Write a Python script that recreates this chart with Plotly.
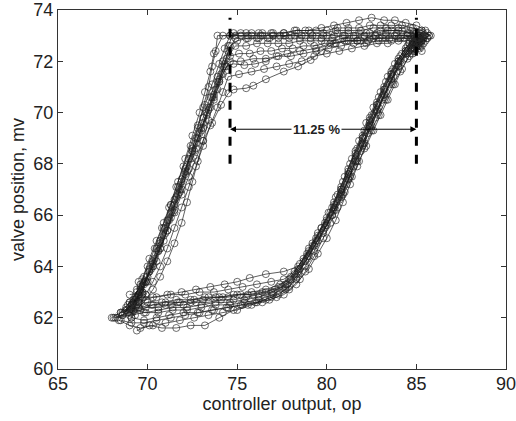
import plotly.graph_objects as go

# ---- data: one hysteresis cycle per pair of lists ----
# order in each cycle: bottom branch -> right branch (+ dwell at top corner)
#                      -> top branch -> left branch (+ dwell at bottom corner)
op_a = [68.6, 69.2, 69.9, 70.6, 71.3, 72.0, 72.7, 73.4, 74.1, 74.8, 75.5, 76.2, 76.9, 77.5, 78.0,
        78.5, 79.0, 79.5, 80.0, 80.5, 80.9, 81.3, 81.7, 82.1, 82.5, 82.9, 83.3, 83.7, 84.1, 84.5, 84.9, 85.2,
        85.0, 85.3, 84.8, 85.2,
        85.4, 85.0, 84.5, 83.9, 83.3, 82.7, 82.1, 81.5, 80.9, 80.3, 79.7, 79.1, 78.5, 77.9, 77.3, 76.7, 76.1, 75.5, 74.9,
        74.5, 74.2, 73.9, 73.6, 73.3, 73.0, 72.7, 72.4, 72.1, 71.8, 71.5, 71.2, 70.9, 70.6, 70.3, 70.0, 69.6, 69.2,
        69.5, 69.0, 69.3]
mv_a = [62.1, 62.3, 62.4, 62.4, 62.5, 62.5, 62.6, 62.6, 62.7, 62.7, 62.8, 62.9, 63.0, 63.2, 63.5,
        63.9, 64.4, 65.0, 65.6, 66.2, 66.8, 67.5, 68.1, 68.8, 69.5, 70.2, 70.8, 71.4, 72.0, 72.4, 72.8, 73.0,
        72.6, 72.8, 72.5, 72.9,
        73.0, 73.1, 73.1, 73.1, 73.1, 73.0, 73.0, 73.0, 73.0, 72.9, 72.9, 72.9, 72.9, 72.9, 72.9, 72.9, 72.9, 72.9, 72.9,
        72.4, 71.8, 71.2, 70.6, 70.0, 69.4, 68.8, 68.2, 67.6, 67.0, 66.4, 65.8, 65.2, 64.6, 64.1, 63.6, 63.0, 62.5,
        62.9, 62.3, 62.7]

op_b = [69.4, 70.1, 70.8, 71.6, 72.4, 73.2, 74.0, 74.8, 75.6, 76.4, 77.2, 77.9, 78.5,
        79.0, 79.5, 80.0, 80.5, 80.9, 81.3, 81.7, 82.1, 82.5, 82.9, 83.3, 83.7, 84.1, 84.5, 84.9, 85.3, 85.7,
        85.5, 85.0, 84.4, 83.8, 83.2, 82.5, 81.8, 81.1, 80.4, 79.7, 79.0, 78.3, 77.6, 76.9, 76.2, 75.5, 74.8,
        74.5, 74.2, 73.9, 73.5, 73.1, 72.7, 72.3, 71.9, 71.5, 71.1, 70.7, 70.3, 69.9, 69.5]
mv_b = [61.5, 61.7, 61.6, 61.6, 61.7, 61.7, 62.0, 62.3, 62.5, 62.6, 62.8, 63.1, 63.5,
        63.9, 64.5, 65.1, 65.8, 66.5, 67.2, 67.9, 68.6, 69.3, 69.9, 70.5, 71.1, 71.6, 72.1, 72.5, 72.8, 73.0,
        73.2, 73.4, 73.5, 73.6, 73.6, 73.7, 73.6, 73.5, 73.4, 73.3, 73.2, 73.2, 73.1, 73.1, 73.1, 73.1, 73.1,
        72.6, 72.0, 71.4, 70.6, 69.8, 69.0, 68.2, 67.4, 66.6, 65.8, 65.0, 64.2, 63.4, 62.6]

op_c = [68.2, 68.9, 69.6, 70.3, 71.0, 71.7, 72.4, 73.1, 73.8, 74.5, 75.2, 75.9, 76.6, 77.3, 77.9,
        78.4, 78.9, 79.4, 79.9, 80.3, 80.8, 81.2, 81.6, 82.0, 82.4, 82.8, 83.2, 83.6, 84.0, 84.4, 84.8, 85.1,
        84.9, 85.2, 84.7,
        85.3, 84.7, 84.0, 83.3, 82.6, 81.9, 81.2, 80.4, 79.7, 79.1, 78.4, 77.6, 76.6, 75.9, 75.5, 74.8, 74.5,
        74.1, 73.6, 73.1, 72.7, 72.3, 71.9, 71.5, 71.1, 70.7, 70.3, 69.9, 69.5, 69.1,
        69.4, 68.9, 69.6]
mv_c = [62.0, 62.2, 62.3, 62.5, 62.5, 62.6, 62.6, 62.7, 62.8, 62.8, 62.9, 62.9, 63.0, 63.2, 63.5,
        63.9, 64.5, 65.1, 65.7, 66.3, 67.0, 67.7, 68.4, 69.0, 69.7, 70.3, 70.9, 71.5, 72.0, 72.4, 72.7, 72.9,
        72.5, 72.7, 72.3,
        72.8, 72.9, 72.9, 72.9, 72.9, 72.8, 72.8, 72.7, 72.4, 72.05, 71.8, 71.6, 71.3, 71.05, 70.95, 70.9, 70.75,
        70.3, 69.6, 68.9, 68.2, 67.5, 66.8, 66.1, 65.4, 64.7, 64.0, 63.4, 62.8, 62.3,
        62.8, 62.5, 63.2]

op_d = [68.8, 69.5, 70.3, 71.1, 71.9, 72.7, 73.5, 74.3, 75.0, 75.7, 76.6, 77.6, 78.4,
        79.0, 79.5, 80.0, 80.4, 80.8, 81.2, 81.6, 82.0, 82.4, 82.8, 83.2, 83.6, 84.0, 84.4, 84.8, 85.1,
        84.9, 85.3, 85.0,
        85.6, 85.1, 84.5, 83.8, 83.1, 82.4, 81.7, 81.0, 80.2, 79.4, 78.5, 77.8, 77.2, 76.6, 76.0, 75.4, 74.8,
        74.4, 74.0, 73.7, 73.3, 72.9, 72.5, 72.1, 71.7, 71.3, 70.9, 70.5, 70.1, 69.7, 69.3]
mv_d = [62.4, 62.6, 62.8, 62.9, 63.0, 63.1, 63.2, 63.3, 63.4, 63.55, 63.7, 63.8, 64.0,
        64.6, 65.2, 65.8, 66.4, 67.0, 67.6, 68.2, 68.8, 69.5, 70.1, 70.7, 71.3, 71.8, 72.3, 72.7, 72.9,
        72.4, 72.6, 72.8,
        72.9, 73.0, 73.0, 73.0, 72.9, 72.9, 72.8, 72.8, 72.7, 72.5, 72.4, 72.3, 72.2, 72.0, 71.9, 71.85, 71.9,
        71.8, 71.2, 70.6, 69.9, 69.2, 68.5, 67.8, 67.1, 66.4, 65.7, 65.0, 64.3, 63.5, 62.8]

op_e = [68.3, 69.0, 69.8, 70.6, 71.4, 72.2, 73.0, 73.8, 74.6, 75.4, 76.2, 77.0, 77.7,
        78.3, 78.8, 79.3, 79.8, 80.3, 80.8, 81.2, 81.6, 82.0, 82.4, 82.8, 83.2, 83.6, 84.0, 84.4, 84.8, 85.2, 85.6,
        85.8, 85.3, 84.7, 84.0, 83.3, 82.6, 81.9, 81.2, 80.5, 79.8, 79.1, 78.4, 77.7, 77.0, 76.3, 75.6, 74.9, 74.2,
        73.7, 73.5, 73.2, 72.9, 72.5, 72.1, 71.7, 71.3, 70.9, 70.5, 70.1, 69.6, 69.1, 68.6,
        69.2, 69.7, 69.0]
mv_e = [62.0, 62.1, 62.2, 62.2, 62.3, 62.3, 62.4, 62.5, 62.5, 62.6, 62.7, 62.9, 63.2,
        63.6, 64.2, 64.8, 65.4, 66.0, 66.7, 67.4, 68.1, 68.7, 69.4, 70.0, 70.6, 71.2, 71.8, 72.3, 72.7, 73.0, 73.1,
        73.0, 73.2, 73.3, 73.3, 73.3, 73.3, 73.2, 73.2, 73.2, 73.1, 73.1, 73.1, 73.0, 73.0, 73.0, 73.0, 73.0, 73.0,
        72.3, 71.6, 70.8, 70.0, 69.1, 68.2, 67.3, 66.4, 65.5, 64.7, 63.9, 63.1, 62.5, 62.2,
        62.6, 63.0, 62.9]

op_f = [69.3, 70.0, 70.8, 71.6, 72.4, 73.2, 74.0, 74.8, 75.6, 76.4, 77.1, 77.7,
        78.2, 78.7, 79.2, 79.7, 80.2, 80.6, 81.0, 81.4, 81.8, 82.2, 82.6, 83.0, 83.4, 83.8, 84.2, 84.6, 85.0,
        84.7, 85.1, 84.9,
        85.2, 84.7, 84.1, 83.5, 82.9, 82.3, 81.7, 81.1, 80.5, 79.9, 79.3, 78.7, 78.1, 77.5, 76.9, 76.3, 75.7, 75.1, 74.6,
        74.3, 74.0, 73.7, 73.4, 73.1, 72.8, 72.5, 72.2, 71.9, 71.6, 71.3, 71.0, 70.7, 70.4, 70.1, 69.8, 69.5, 69.2]
mv_f = [62.5, 62.6, 62.6, 62.7, 62.7, 62.8, 62.8, 62.9, 62.9, 63.0, 63.1, 63.3,
        63.7, 64.2, 64.8, 65.5, 66.1, 66.8, 67.5, 68.2, 68.9, 69.6, 70.2, 70.8, 71.4, 71.9, 72.3, 72.7, 72.9,
        72.5, 72.6, 73.0,
        73.0, 73.0, 72.9, 72.9, 72.9, 72.8, 72.8, 72.8, 72.7, 72.7, 72.6, 72.6, 72.5, 72.5, 72.4, 72.4, 72.3, 72.3, 72.2,
        71.8, 71.3, 70.7, 70.2, 69.6, 69.0, 68.5, 67.9, 67.3, 66.7, 66.1, 65.5, 64.9, 64.3, 63.8, 63.3, 62.9, 62.6]

op_g = [68.5, 69.2, 69.9, 70.6, 71.4, 72.2, 73.0, 73.8, 74.6, 75.4, 76.2, 77.0, 77.8,
        78.4, 78.9, 79.4, 79.9, 80.4, 80.8, 81.2, 81.6, 82.0, 82.4, 82.8, 83.2, 83.6, 84.0, 84.4, 84.8, 85.2,
        85.4, 84.9, 84.3, 83.6, 82.9, 82.2, 81.5, 80.8, 80.1, 79.4, 78.7, 78.0, 77.3, 76.6, 75.9, 75.2, 74.6,
        74.2, 73.9, 73.5, 73.1, 72.7, 72.3, 71.9, 71.5, 71.1, 70.7, 70.3, 69.9, 69.5, 69.1, 68.7,
        69.1, 69.8, 69.4]
mv_g = [62.2, 62.3, 62.2, 62.3, 62.4, 62.4, 62.5, 62.6, 62.6, 62.7, 62.8, 63.0, 63.3,
        63.8, 64.4, 65.0, 65.6, 66.3, 66.9, 67.6, 68.3, 69.0, 69.6, 70.3, 70.9, 71.5, 72.0, 72.4, 72.7, 72.9,
        72.9, 72.9, 72.9, 72.8, 72.8, 72.7, 72.7, 72.6, 72.5, 72.4, 72.3, 72.2, 72.2, 72.1, 72.1, 72.0, 72.0,
        71.5, 70.9, 70.2, 69.4, 68.6, 67.8, 67.0, 66.2, 65.4, 64.7, 64.0, 63.4, 62.9, 62.5, 62.2,
        62.0, 63.6, 63.1]

op_h = [69.1, 69.8, 70.5, 71.2, 72.0, 72.8, 73.6, 74.4, 75.2, 76.0, 76.8, 77.6, 78.3,
        78.8, 79.3, 79.8, 80.2, 80.6, 81.0, 81.4, 81.8, 82.2, 82.6, 83.0, 83.4, 83.8, 84.2, 84.6, 85.0, 85.4,
        85.1, 84.8, 85.2,
        85.6, 85.2, 84.6, 84.0, 83.4, 82.8, 82.2, 81.6, 81.0, 80.4, 79.8, 79.2, 78.6, 78.0, 77.4, 76.8, 76.2, 75.6, 75.0,
        74.6, 74.3, 74.0, 73.7, 73.4, 73.1, 72.8, 72.5, 72.2, 71.9, 71.5, 71.1, 70.7, 70.3, 69.9, 69.5]
mv_h = [62.0, 61.9, 62.0, 62.1, 62.2, 62.2, 62.3, 62.4, 62.5, 62.6, 62.7, 62.9, 63.3,
        63.8, 64.4, 65.1, 65.7, 66.3, 66.9, 67.5, 68.1, 68.7, 69.3, 69.9, 70.5, 71.1, 71.7, 72.2, 72.6, 72.9,
        72.7, 72.4, 72.6,
        72.9, 73.0, 73.1, 73.2, 73.2, 73.1, 73.1, 73.0, 73.0, 73.0, 73.0, 73.0, 73.0, 73.0, 73.0, 72.9, 72.9, 72.9, 72.8,
        72.6, 71.9, 71.2, 70.5, 69.7, 68.9, 68.1, 67.3, 66.5, 65.7, 64.9, 64.2, 63.6, 63.1, 62.7, 62.4]

op_i = [69.0, 69.7, 70.5, 71.3, 72.1, 72.9, 73.7, 74.5, 75.3, 76.1, 76.9, 77.6, 78.2,
        78.7, 79.2, 79.7, 80.1, 80.5, 80.9, 81.3, 81.7, 82.1, 82.5, 82.9, 83.3, 83.7, 84.1, 84.5, 84.9, 85.3,
        85.0, 85.4, 84.9,
        85.7, 85.3, 84.8, 84.2, 83.6, 83.0, 82.4, 81.8, 81.2, 80.6, 80.0, 79.4, 78.8, 78.2, 77.6, 77.0, 76.4, 75.8, 75.2, 74.6,
        74.3, 74.0, 73.6, 73.2, 72.8, 72.4, 72.0, 71.6, 71.2, 70.8, 70.4, 70.0, 69.6, 69.2, 68.8,
        69.3, 69.9, 69.5]
mv_i = [62.6, 62.8, 62.8, 62.9, 62.9, 63.0, 63.0, 63.1, 63.2, 63.3, 63.4, 63.5, 63.8,
        64.3, 64.9, 65.5, 66.1, 66.7, 67.3, 68.0, 68.6, 69.3, 69.9, 70.6, 71.2, 71.7, 72.2, 72.6, 72.9, 73.1,
        72.8, 72.7, 72.5,
        73.0, 73.2, 73.3, 73.4, 73.4, 73.4, 73.4, 73.3, 73.3, 73.3, 73.2, 73.2, 73.2, 73.2, 73.1, 73.1, 73.1, 73.1, 73.1, 73.0,
        72.5, 71.9, 71.1, 70.3, 69.5, 68.7, 67.9, 67.1, 66.3, 65.5, 64.7, 64.0, 63.3, 62.7, 62.3,
        62.1, 62.9, 63.4]

op_j = [68.5, 69.1, 69.8, 70.5, 71.3, 72.1, 72.9, 73.7, 74.5, 75.3, 76.1, 76.9, 77.7, 78.3,
        78.8, 79.3, 79.8, 80.3, 80.7, 81.1, 81.5, 81.9, 82.3, 82.7, 83.1, 83.5, 83.9, 84.3, 84.7, 85.0,
        84.8, 85.2, 85.0,
        85.3, 84.8, 84.2, 83.6, 83.0, 82.4, 81.8, 81.2, 80.6, 80.0, 79.4, 78.8, 78.2, 77.6, 77.0, 76.4, 75.8, 75.2, 74.6, 73.9,
        73.8, 73.6, 73.4, 73.1, 72.8, 72.5, 72.1, 71.7, 71.3, 70.9, 70.5, 70.0, 69.5, 69.0, 68.6, 68.1]
mv_j = [61.9, 61.8, 61.8, 61.9, 62.0, 62.1, 62.2, 62.3, 62.4, 62.5, 62.6, 62.8, 63.1, 63.5,
        64.0, 64.6, 65.3, 66.0, 66.6, 67.2, 67.9, 68.5, 69.2, 69.8, 70.5, 71.1, 71.6, 72.1, 72.5, 72.8,
        72.3, 72.5, 72.9,
        73.0, 73.1, 73.2, 73.2, 73.2, 73.1, 73.1, 73.1, 73.1, 73.0, 73.0, 73.0, 73.0, 73.0, 73.0, 73.0, 73.0, 73.0, 73.0, 73.0,
        72.4, 71.8, 71.0, 70.2, 69.4, 68.6, 67.7, 66.8, 65.9, 65.0, 64.2, 63.4, 62.8, 62.4, 62.1, 62.0]

op_k = [68.8, 69.5, 70.2, 71.0, 71.8, 72.6, 73.4, 74.2, 75.0, 75.8, 76.6, 77.4, 78.0,
        78.5, 79.0, 79.5, 80.0, 80.4, 80.8, 81.2, 81.6, 82.0, 82.4, 82.8, 83.2, 83.6, 84.0, 84.4, 84.8,
        85.1, 84.6, 84.0, 83.4, 82.8, 82.1, 81.4, 80.7, 80.0, 79.3, 78.6, 77.9, 77.2, 76.5, 75.8, 75.1, 74.5,
        74.2, 73.9, 73.5, 73.1, 72.7, 72.3, 71.9, 71.5, 71.1, 70.7, 70.3, 69.9, 69.5, 69.1,
        69.7, 70.1, 69.3]
mv_k = [62.3, 62.4, 62.5, 62.6, 62.6, 62.7, 62.8, 62.8, 62.9, 63.0, 63.1, 63.3, 63.6,
        64.1, 64.7, 65.3, 65.9, 66.5, 67.1, 67.8, 68.5, 69.1, 69.8, 70.4, 71.0, 71.6, 72.1, 72.5, 72.8,
        72.7, 72.8, 72.8, 72.7, 72.7, 72.6, 72.5, 72.4, 72.3, 72.2, 72.0, 71.9, 71.8, 71.7, 71.6, 71.5, 71.4,
        70.8, 70.2, 69.5, 68.7, 67.9, 67.1, 66.3, 65.5, 64.7, 64.0, 63.4, 62.9, 62.5, 62.2,
        63.0, 63.8, 62.6]

op_l = [68.4, 69.0, 69.6, 70.3, 71.0, 71.8, 72.6, 73.4, 74.2, 75.0, 75.8, 76.6, 77.3, 77.9,
        78.4, 78.9, 79.4, 79.9, 80.4, 80.8, 81.2, 81.6, 82.0, 82.4, 82.8, 83.2, 83.6, 84.0, 84.4, 84.8, 85.1,
        84.9, 85.3, 84.6,
        85.5, 85.1, 84.5, 83.9, 83.3, 82.7, 82.1, 81.5, 80.9, 80.3, 79.7, 79.1, 78.5, 77.9, 77.3, 76.7, 76.1, 75.5, 74.9,
        74.4, 74.1, 73.8, 73.4, 73.0, 72.6, 72.2, 71.8, 71.4, 71.0, 70.6, 70.2, 69.8, 69.4, 69.0, 68.5, 68.0]
mv_l = [61.9, 61.7, 61.6, 61.7, 61.8, 61.9, 62.0, 62.1, 62.2, 62.3, 62.5, 62.7, 62.9, 63.2,
        63.7, 64.3, 64.9, 65.5, 66.2, 66.8, 67.4, 68.1, 68.8, 69.5, 70.1, 70.7, 71.3, 71.9, 72.3, 72.7, 72.9,
        72.6, 72.4, 72.7,
        72.8, 72.9, 73.0, 73.0, 73.0, 73.0, 72.9, 72.9, 72.9, 72.8, 72.8, 72.8, 72.8, 72.7, 72.7, 72.7, 72.7, 72.6, 72.6,
        72.1, 71.5, 70.9, 70.1, 69.3, 68.5, 67.7, 66.9, 66.1, 65.3, 64.6, 63.9, 63.4, 63.0, 62.6, 62.2, 62.0]

cycles = [(op_a, mv_a), (op_b, mv_b), (op_c, mv_c), (op_d, mv_d), (op_e, mv_e), (op_f, mv_f),
          (op_g, mv_g), (op_h, mv_h), (op_i, mv_i), (op_j, mv_j), (op_k, mv_k), (op_l, mv_l)]

# stiction band annotation
band_op = [74.6, 85.0]
band_mv = [68.0, 73.7]
arrow_mv = 69.35
label_op = 79.4
band_label = "11.25 %"

x_ticks = [65, 70, 75, 80, 85, 90]
y_ticks = [60, 62, 64, 66, 68, 70, 72, 74]

fig = go.Figure()
for op, mv in cycles:
    fig.add_trace(go.Scatter(
        x=op, y=mv, mode="lines+markers",
        line=dict(color="rgba(20,20,20,0.85)", width=0.8),
        marker=dict(symbol="circle-open", size=7,
                    color="rgba(40,40,40,0.75)", line=dict(width=0.9)),
        showlegend=False, hoverinfo="skip"))

for xv in band_op:
    fig.add_shape(type="line", x0=xv, x1=xv, y0=band_mv[0], y1=band_mv[1],
                  xref="x", yref="y", line=dict(color="black", width=3, dash="dash"))

for xv in band_op:
    fig.add_annotation(x=xv, y=arrow_mv, ax=label_op, ay=arrow_mv, xref="x", yref="y",
                       axref="x", ayref="y", text="", showarrow=True,
                       arrowhead=2, arrowsize=1.2, arrowwidth=1, arrowcolor="black")
fig.add_annotation(x=label_op, y=arrow_mv, text="<b>" + band_label + "</b>", showarrow=False,
                   font=dict(size=13, color="#222", family="Liberation Sans, Arial, sans-serif"),
                   bgcolor="white", borderpad=1)

axis_common = dict(showline=True, linecolor="#333", linewidth=1, mirror="ticks",
                   ticks="inside", ticklen=5, tickcolor="#333", showgrid=False, zeroline=False,
                   automargin=False, ticklabeloverflow="allow",
                   tickfont=dict(size=18, color="#222"))
fig.update_xaxes(range=[65, 90], tickvals=x_ticks, ticklabelstandoff=-2,
                 title=dict(text="controller output, op", font=dict(size=18, color="#222"), standoff=0),
                 **axis_common)
fig.update_yaxes(range=[60, 74], tickvals=y_ticks,
                 title=dict(text="valve position, mv", font=dict(size=18, color="#222"), standoff=4),
                 **axis_common)

fig.update_layout(width=516, height=421, margin=dict(l=58, r=10, t=10, b=52),
                  plot_bgcolor="white", paper_bgcolor="white",
                  font=dict(family="Liberation Sans, Arial, sans-serif", color="#222"))

# remove the page's default 8 px body margin so the figure sits at the window origin
fig.write_html("out.html", config={"displayModeBar": False},
               post_script="document.body.style.margin='0px';")
